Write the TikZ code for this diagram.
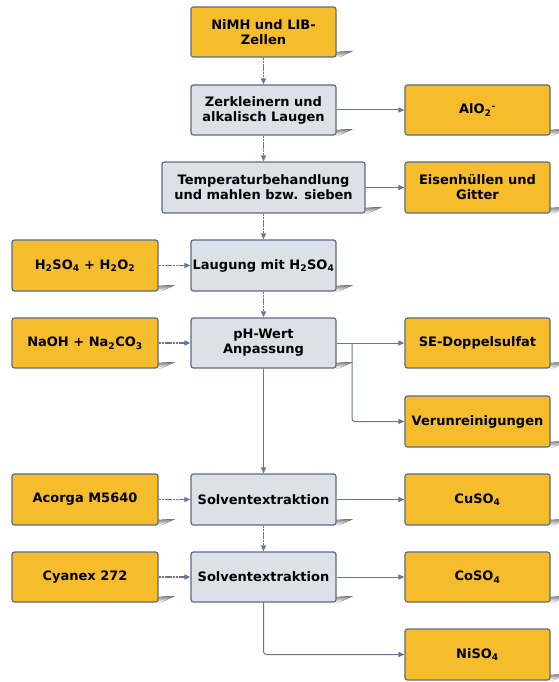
\documentclass[tikz,border=0pt]{standalone}
\usepackage{fontspec}
\setmainfont{DejaVu Sans}
\usetikzlibrary{arrows.meta}
\definecolor{boxorange}{HTML}{F5BD2B}
\definecolor{boxgrey}{HTML}{DCE1E8}
\definecolor{edge}{HTML}{5E6987}
\definecolor{wire}{HTML}{6B7592}
\definecolor{shade}{HTML}{D2D2D2}
\tikzset{
  x=1pt, y=-1pt,
  card/.style={draw=edge, line width=1.2pt, rounded corners=2.5pt, inner sep=0pt,
    align=center, font=\fontsize{13}{15}\selectfont\bfseries},
  inbox/.style={card, fill=boxorange},
  stepbox/.style={card, fill=boxgrey},
  link/.style={draw=wire, line width=1pt, -{Triangle[length=6pt,width=5pt]}},
  feed/.style={link, line width=1.3pt, dash pattern=on 1.2pt off 0.35pt},
}
% box with a slanted shadow wedge at its lower right corner
\newcommand{\flowbox}[7]{%
  \fill[shade] (#4,#7-5) -- (#4+17,#7-6) -- (#4+4,#7) -- (#4,#7) -- cycle;
  \node[#2, minimum width={(#4-#3)*1pt}, minimum height={(#7-#6)*1pt}]
    (#1) at ({(#3+#4)/2},{(#6+#7)/2}) {#5};}
\begin{document}
\begin{tikzpicture}
\useasboundingbox (0,0) rectangle (558,682);
\fill[white] (0,0) rectangle (558,682);
% centre column
\flowbox{cells}{inbox}{191}{336}{NiMH und LIB-\\Zellen}{7}{57}
\flowbox{crush}{stepbox}{191}{336}{Zerkleinern und\\alkalisch Laugen}{85}{135}
\flowbox{heat}{stepbox}{162}{365}{Temperaturbehandlung\\und mahlen bzw. sieben}{162}{213}
\flowbox{leach}{stepbox}{191}{336}{Laugung mit H\textsubscript{2}SO\textsubscript{4}}{240}{291}
\flowbox{ph}{stepbox}{191}{336}{pH-Wert\\Anpassung}{318}{368}
\flowbox{sx1}{stepbox}{191}{336}{Solventextraktion}{474}{525}
\flowbox{sx2}{stepbox}{191}{336}{Solventextraktion}{552}{602}
% reagents
\flowbox{acid}{inbox}{12}{158}{H\textsubscript{2}SO\textsubscript{4} + H\textsubscript{2}O\textsubscript{2}}{240}{291}
\flowbox{base}{inbox}{12}{158}{NaOH + Na\textsubscript{2}CO\textsubscript{3}}{318}{368}
\flowbox{acorga}{inbox}{12}{158}{Acorga M5640}{474}{525}
\flowbox{cyanex}{inbox}{12}{158}{Cyanex 272}{552}{602}
% products
\flowbox{alo}{inbox}{405}{550}{AlO\textsubscript{2}\textsuperscript{-}}{85}{135}
\flowbox{iron}{inbox}{405}{550}{Eisenhüllen und\\Gitter}{162}{213}
\flowbox{se}{inbox}{405}{550}{SE-Doppelsulfat}{318}{368}
\flowbox{impure}{inbox}{405}{550}{Verunreinigungen}{396}{447}
\flowbox{cu}{inbox}{405}{550}{CuSO\textsubscript{4}}{474}{525}
\flowbox{co}{inbox}{405}{550}{CoSO\textsubscript{4}}{552}{602}
\flowbox{ni}{inbox}{405}{550}{NiSO\textsubscript{4}}{629}{680}
% main flow
\draw[feed] (cells) -- (crush);
\draw[feed] (crush) -- (heat);
\draw[feed] (heat) -- (leach);
\draw[feed] (leach) -- (ph);
\draw[link] (ph) -- (sx1);
\draw[feed] (sx1) -- (sx2);
% reagent feeds
\draw[feed] (acid) -- (leach);
\draw[feed] (base) -- (ph);
\draw[feed] (acorga) -- (sx1);
\draw[feed] (cyanex) -- (sx2);
% outputs
\draw[link] (crush) -- (alo);
\draw[link] (heat) -- (iron);
\draw[link] (ph) -- (se);
\coordinate (split) at (352,343);
\draw[link, rounded corners=3pt] (split) |- (impure);
\draw[link] (sx1) -- (cu);
\draw[link] (sx2) -- (co);
\draw[link, rounded corners=3pt] (sx2) |- (ni);
\end{tikzpicture}
\end{document}
